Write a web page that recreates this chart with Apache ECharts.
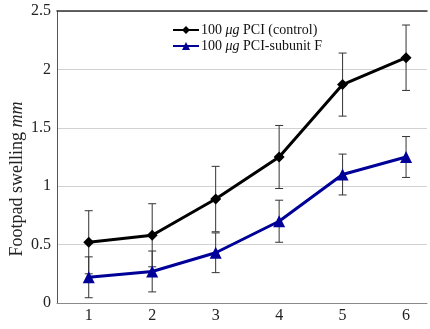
<!DOCTYPE html>
<html>
<head>
<meta charset="utf-8">
<script src="https://cdn.jsdelivr.net/npm/echarts@6/dist/echarts.min.js"></script>
<style>
  html, body { margin: 0; padding: 0; background: #fff; }
  #chart { width: 430px; height: 329px; }
</style>
</head>
<body>
<div id="chart"></div>
<script>
// Weeks after challenge
const weeks = [1, 2, 3, 4, 5, 6];
// Mean footpad swelling (mm) and error (±)
const controlMean = [0.52, 0.58, 0.89, 1.25, 1.87, 2.10];
const controlErr  = [0.27, 0.27, 0.28, 0.27, 0.27, 0.28];
const subunitMean = [0.22, 0.27, 0.43, 0.70, 1.10, 1.25];
const subunitErr  = [0.175, 0.175, 0.17, 0.18, 0.175, 0.175];
const yTicks = [0, 0.5, 1, 1.5, 2, 2.5];

const serif = '"Liberation Serif", "DejaVu Serif", serif';

function pairs(xs, ys) { return xs.map((x, i) => [x, ys[i]]); }
function errRows(xs, ys, es) { return xs.map((x, i) => [x, ys[i] - es[i], ys[i] + es[i]]); }

function renderErr(params, api) {
  const x = api.value(0);
  const lo = api.coord([x, api.value(1)]);
  const hi = api.coord([x, api.value(2)]);
  const cap = 4;
  const style = { stroke: '#333', lineWidth: 1, fill: null };
  return {
    type: 'group',
    children: [
      { type: 'line', shape: { x1: lo[0], y1: lo[1], x2: hi[0], y2: hi[1] }, style },
      { type: 'line', shape: { x1: lo[0] - cap, y1: lo[1], x2: lo[0] + cap, y2: lo[1] }, style },
      { type: 'line', shape: { x1: hi[0] - cap, y1: hi[1], x2: hi[0] + cap, y2: hi[1] }, style }
    ]
  };
}

const legendText = {
  fontFamily: serif, fontSize: 14, color: '#111', padding: [0, 0, 0, -3],
  rich: { i: { fontFamily: serif, fontSize: 14, fontStyle: 'italic', color: '#111' } }
};
const legendNames = {
  control: '100 {i|μg} PCI (control)',
  subunit: '100 {i|μg} PCI-subunit F'
};

const chart = echarts.init(document.getElementById('chart'), null, { renderer: 'canvas' });
chart.setOption({
  animation: false,
  backgroundColor: '#fff',
  grid: { left: 57, right: 3, top: 11, bottom: 26, outerBoundsMode: 'none' },
  legend: [{
    left: 172, top: 23, padding: 0,
    itemWidth: 26, itemHeight: 10,
    data: ['control'],
    formatter: n => legendNames[n],
    textStyle: legendText
  }, {
    left: 172, top: 39, padding: 0,
    itemWidth: 26, itemHeight: 10,
    data: ['subunit'],
    formatter: n => legendNames[n],
    textStyle: legendText
  }],
  xAxis: [{
    type: 'value',
    min: 0.5,
    max: 6.33,
    axisLine: { show: true, onZero: false, lineStyle: { color: '#8a8a8a', width: 1 } },
    axisTick: { show: false },
    splitLine: { show: false },
    axisLabel: {
      customValues: weeks,
      fontFamily: serif, fontSize: 16, color: '#222', margin: 5
    }
  }, {
    type: 'value',
    position: 'top',
    min: 0.5,
    max: 6.33,
    axisLine: { show: true, onZero: false, lineStyle: { color: '#333', width: 1.5 } },
    axisTick: { show: false },
    axisLabel: { show: false },
    splitLine: { show: false }
  }],
  yAxis: {
    type: 'value',
    min: 0,
    max: 2.5,
    interval: 0.5,
    name: 'Footpad swelling {i|mm}',
    nameLocation: 'middle',
    nameGap: 31,
    nameMoveOverlap: false,
    nameTextStyle: {
      fontFamily: serif, fontSize: 18, color: '#222', padding: [0, 44, 0, 0],
      rich: { i: { fontFamily: serif, fontSize: 18, fontStyle: 'italic', color: '#222' } }
    },
    axisLine: { show: true, lineStyle: { color: '#555', width: 1 } },
    axisTick: { show: false },
    splitLine: { show: true, lineStyle: { color: '#d2d2d2', width: 1 } },
    axisLabel: {
      customValues: yTicks,
      fontFamily: serif, fontSize: 16, color: '#222', margin: 6
    }
  },
  series: [
    {
      type: 'custom',
      renderItem: renderErr,
      data: errRows(weeks, controlMean, controlErr),
      encode: { x: 0, y: [1, 2] },
      z: 1, silent: true
    },
    {
      type: 'custom',
      renderItem: renderErr,
      data: errRows(weeks, subunitMean, subunitErr),
      encode: { x: 0, y: [1, 2] },
      z: 1, silent: true
    },
    {
      name: 'control',
      type: 'line',
      data: pairs(weeks, controlMean),
      symbol: 'diamond',
      symbolSize: 11,
      lineStyle: { color: '#000', width: 3 },
      itemStyle: { color: '#000' },
      z: 3
    },
    {
      name: 'subunit',
      type: 'line',
      data: pairs(weeks, subunitMean),
      symbol: 'triangle',
      symbolSize: 12,
      lineStyle: { color: '#000099', width: 3 },
      itemStyle: { color: '#000099' },
      z: 3
    }
  ]
});
</script>
</body>
</html>
